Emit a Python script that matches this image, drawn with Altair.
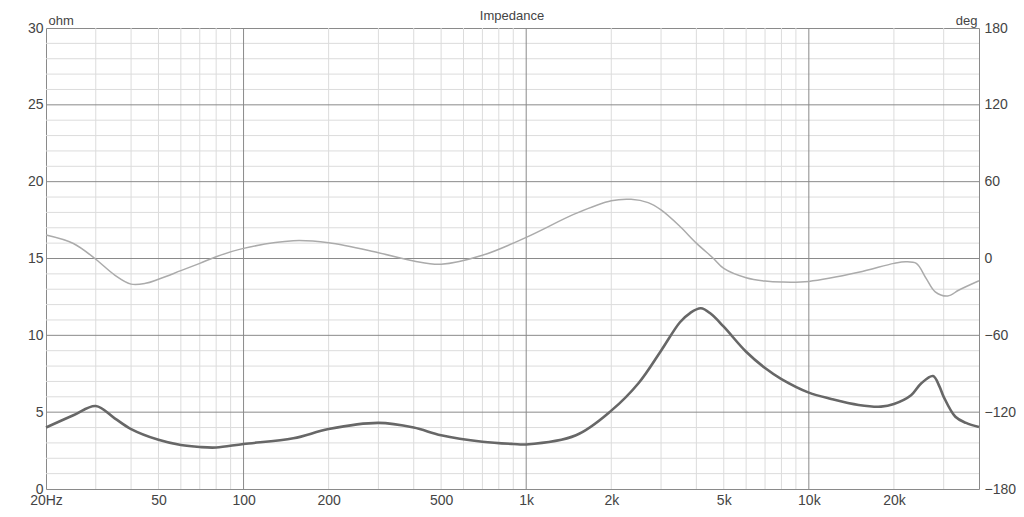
import altair as alt
import pandas as pd

# impedance magnitude (ohm)
imp_freq = [20, 25, 30, 35, 40, 50, 60, 70, 80, 100, 150, 200, 300, 400, 500, 700, 900, 1000,
            1500, 2000, 2500, 3000, 3500, 3800, 4150, 4500, 5000, 6000, 7000, 8000, 10000,
            12000, 15000, 18000, 20000, 23000, 25000, 27500, 29000, 30000, 33000, 36000, 40000]
imp_ohm = [4.0, 4.8, 5.4, 4.6, 3.9, 3.2, 2.86, 2.73, 2.7, 2.93, 3.3, 3.9, 4.3, 4.0, 3.5, 3.08, 2.93, 2.9,
           3.5, 5.1, 6.9, 9.0, 10.85, 11.45, 11.76, 11.4, 10.56, 8.93, 7.87, 7.15, 6.27,
           5.86, 5.47, 5.36, 5.53, 6.1, 6.88, 7.35, 6.66, 6.0, 4.7, 4.3, 4.03]

# phase (deg)
ph_freq = [20, 25, 30, 35, 40, 45, 50, 60, 70, 80, 100, 150, 200, 300, 400, 500, 700, 1000,
           1500, 2000, 2350, 2700, 3000, 3500, 4000, 4600, 5000, 6000, 7000, 8000, 10000, 15000,
           20000, 22000, 24000, 26000, 28000, 31000, 34000, 40000]
ph_deg = [18.3, 11.7, -0.6, -12.9, -20, -19.4, -16.2, -9.5, -3.8, 1.4, 7.9, 13.9, 12.3, 4.5, -2, -4.5, 2.5, 16.5,
          35.2, 45.1, 46.2, 43.6, 37.9, 25.0, 12.0, 0.0, -7.7, -15.0, -17.6, -18.4, -17.9, -10.8,
          -3.8, -2.5, -3.8, -15.5, -26, -29.3, -24.6, -17.4]

# grid + tick positions
x_major = [100, 1000, 10000]
x_minor = [30, 40, 50, 60, 70, 80, 90, 200, 300, 400, 500, 600, 700, 800, 900,
           2000, 3000, 4000, 5000, 6000, 7000, 8000, 9000, 20000, 30000]
y_major = [5, 10, 15, 20, 25]
y_minor = [1, 2, 3, 4, 6, 7, 8, 9, 11, 12, 13, 14, 16, 17, 18, 19, 21, 22, 23, 24, 26, 27, 28, 29]
x_labels = [20, 50, 100, 200, 500, 1000, 2000, 5000, 10000, 20000]
ohm_ticks = [0, 5, 10, 15, 20, 25, 30]
deg_ticks = [-180, -120, -60, 0, 60, 120, 180]

FONT = "Liberation Sans"
TXT = "#444444"
xscale = alt.Scale(type="log", domain=[20, 40000], nice=False)
ohm_scale = alt.Scale(domain=[0, 30], nice=False)
deg_scale = alt.Scale(domain=[-180, 180], nice=False)

x_axis = alt.Axis(values=x_labels, title=None, grid=False, ticks=False, domain=False,
                  labelFont=FONT, labelFontSize=14, labelColor=TXT, labelPadding=4,
                  labelFlush=False, labelOverlap=False,
                  labelExpr="datum.value == 20 ? '20Hz' : (datum.value >= 1000 ? (datum.value / 1000) + 'k' : datum.value)")

imp = pd.DataFrame({"f": imp_freq, "v": imp_ohm})
ph = pd.DataFrame({"f": ph_freq, "v": ph_deg})


def vrules(vals, color):
    return alt.Chart(pd.DataFrame({"f": vals})).mark_rule(color=color, strokeWidth=1).encode(
        x=alt.X("f:Q", scale=xscale, axis=x_axis)
    )


def hrules(vals, color):
    return alt.Chart(pd.DataFrame({"v": vals})).mark_rule(color=color, strokeWidth=1).encode(
        y=alt.Y("v:Q", scale=ohm_scale, axis=None)
    )


grid = (
    vrules(x_minor, "#dcdcdc") + hrules(y_minor, "#dcdcdc")
    + vrules(x_major, "#8a8a8a") + hrules(y_major, "#8a8a8a")
)

phase = alt.Chart(ph).mark_line(color="#ababab", strokeWidth=1.5, interpolate="catmull-rom").encode(
    x=alt.X("f:Q", scale=xscale, axis=x_axis),
    y=alt.Y("v:Q", scale=deg_scale,
            axis=alt.Axis(orient="right", values=deg_ticks, title="deg", titleAngle=0,
                          titleX=-2, titleY=-4, titleAlign="right", titleBaseline="alphabetic",
                          titleFontSize=13, titleFontWeight="normal", titleColor=TXT,
                          titleFont=FONT, labelFont=FONT, labelFontSize=14, labelColor=TXT,
                          labelPadding=5, ticks=False, domain=False, grid=False)),
)

imped = alt.Chart(imp).mark_line(color="#676767", strokeWidth=2.6, interpolate="catmull-rom").encode(
    x=alt.X("f:Q", scale=xscale, axis=x_axis),
    y=alt.Y("v:Q", scale=ohm_scale,
            axis=alt.Axis(orient="left", values=ohm_ticks, title="ohm", titleAngle=0,
                          titleX=2, titleY=-4, titleAlign="left", titleBaseline="alphabetic",
                          titleFontSize=13, titleFontWeight="normal", titleColor=TXT,
                          titleFont=FONT, labelFont=FONT, labelFontSize=14, labelColor=TXT,
                          labelPadding=3, ticks=False, domain=False, grid=False)),
)

title = alt.Chart(pd.DataFrame({"t": ["Impedance"]})).mark_text(
    font=FONT, fontSize=13, color=TXT, align="center", baseline="alphabetic"
).encode(x=alt.value(466), y=alt.value(-8), text="t:N")

chart = (
    alt.layer(grid, phase, imped, title)
    .resolve_scale(y="independent")
    .resolve_axis(y="independent")
    .properties(
        width=933, height=461,
        autosize="none",
        padding={"left": 38, "top": 20, "right": 37, "bottom": 20},
        background="white",
    )
    .configure_view(stroke="#8a8a8a", strokeWidth=1)
)

chart.save("out.html", embed_options={"renderer": "svg", "actions": False})
